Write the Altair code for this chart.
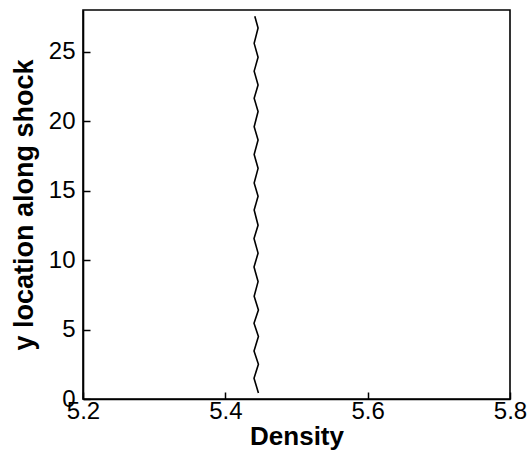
import altair as alt
import pandas as pd

# Shock-front density profile
y_location = [0.43, 1.5, 2.5, 3.45, 4.5, 5.45, 6.4, 7.4, 8.45, 9.5, 10.5, 11.55,
              12.5, 13.6, 14.6, 15.55, 16.6, 17.6, 18.65, 19.6, 20.7, 21.65,
              22.6, 23.6, 24.6, 25.6, 26.7, 27.55]
density = [5.4465, 5.4403, 5.4465, 5.4403, 5.4465, 5.4403, 5.4465, 5.4405,
           5.4460, 5.4403, 5.4460, 5.4403, 5.4460, 5.4405, 5.4460, 5.4405,
           5.4460, 5.4405, 5.4460, 5.4405, 5.4460, 5.4405, 5.4460, 5.4405,
           5.4460, 5.4405, 5.4460, 5.4414]

x_ticks = [5.2, 5.4, 5.6, 5.8]
y_ticks = [0, 5, 10, 15, 20, 25]

df = pd.DataFrame({"x": density, "y": y_location, "i": list(range(len(density)))})

xscale = alt.Scale(domain=[5.2, 5.8], nice=False, zero=False)
yscale = alt.Scale(domain=[0, 28], nice=False, zero=False)

FONT = "Liberation Sans"

main = alt.Chart(df).mark_line(color="black", strokeWidth=1.6).encode(
    x=alt.X("x:Q", scale=xscale, axis=alt.Axis(
        values=x_ticks, format=".1f", title="Density", grid=False,
        ticks=False, tickSize=0, labelPadding=0, domain=True,
        domainColor="black", domainWidth=1.6,
        labelFont=FONT, labelFontSize=24, labelColor="black",
        titleFont=FONT, titleFontSize=26, titleFontWeight="bold",
        titleColor="black", titlePadding=0, labelFlush=False)),
    y=alt.Y("y:Q", scale=yscale, axis=alt.Axis(
        values=y_ticks, format="d", title="y location along shock", grid=False,
        ticks=False, tickSize=0, labelPadding=8, domain=True,
        domainColor="black", domainWidth=1.6,
        labelFont=FONT, labelFontSize=24, labelColor="black",
        titleFont=FONT, titleFontSize=27, titleFontWeight="bold",
        titleColor="black", titlePadding=10, labelFlush=False)),
    order="i:Q",
)

inner_ticks = alt.Chart(df).mark_line(opacity=0).encode(
    x=alt.X("x:Q", scale=xscale, axis=alt.Axis(
        orient="bottom", offset=-7, values=x_ticks, domain=False, labels=False,
        ticks=True, tickSize=7, tickColor="black", tickWidth=1.5,
        grid=False, title="")),
    y=alt.Y("y:Q", scale=yscale, axis=alt.Axis(
        orient="left", offset=-7, values=y_ticks, domain=False, labels=False,
        ticks=True, tickSize=7, tickColor="black", tickWidth=1.5,
        grid=False, title="")),
    order="i:Q",
)

chart = alt.layer(main, inner_ticks).resolve_axis(
    x="independent", y="independent"
).properties(
    width=427, height=389,
    autosize=alt.AutoSizeParams(type="none"),
    padding={"left": 83, "top": 10, "right": 22, "bottom": 58},
    background="white",
).configure_view(stroke="black", strokeWidth=1.6)

chart.save("out.html", embed_options={"renderer": "svg", "actions": False})
